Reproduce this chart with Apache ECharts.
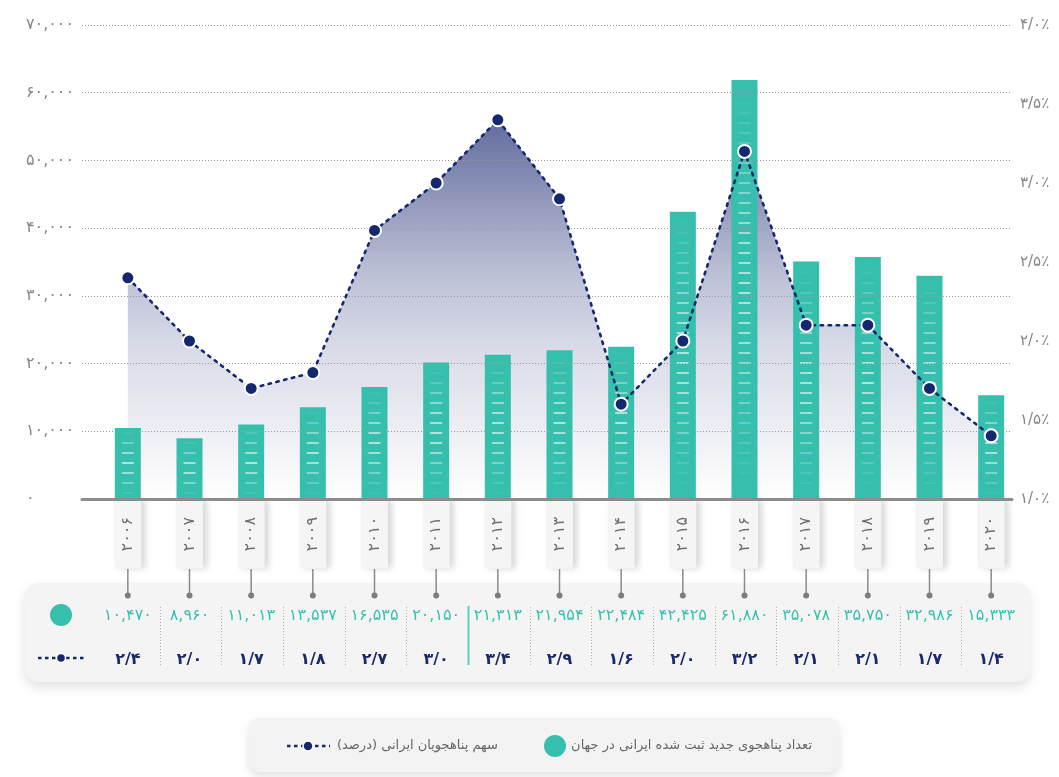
<!DOCTYPE html>
<html lang="fa">
<head>
<meta charset="utf-8">
<title>پناهجویان ایرانی</title>
<script src="https://cdn.jsdelivr.net/npm/echarts@6/dist/echarts.min.js"></script>
<style>
  html, body { margin: 0; padding: 0; background: #ffffff; }
  #chart { width: 1059px; height: 777px; }
</style>
</head>
<body>
<div id="chart"></div>
<script>
// Years (categories)
const years = ['2006', '2007', '2008', '2009', '2010', '2011', '2012', '2013', '2014', '2015', '2016', '2017', '2018', '2019', '2020'];
// New Iranian asylum seekers registered worldwide
const newAsylumSeekers = [10470, 8960, 11013, 13537, 16535, 20150, 21313, 21954, 22484, 42425, 61880, 35078, 35750, 32986, 15333];
// Share of Iranian asylum seekers (percent)
const sharePercent = [2.4, 2.0, 1.7, 1.8, 2.7, 3.0, 3.4, 2.9, 1.6, 2.0, 3.2, 2.1, 2.1, 1.7, 1.4];
// Axis ranges
const countAxis = { min: 0, max: 70000, interval: 10000 };
const shareAxis = { min: 1, max: 4, interval: 0.5 };

const legendBarText = 'تعداد پناهجوی جدید ثبت شده ایرانی در جهان';
const legendLineText = 'سهم پناهجویان ایرانی (درصد)\u200F';

const TEAL = '#35bfac';
const NAVY = '#15276f';
const FONT = "'DejaVu Sans', 'Noto Sans', sans-serif";

// Persian digits
const faDigits = '۰۱۲۳۴۵۶۷۸۹';
const fa = s => String(s).replace(/\d/g, d => faDigits[+d]);
const faCount = v => fa(Math.round(v).toLocaleString('en-US'));
const faShare = v => fa(v.toFixed(1).replace('.', '/'));

// mix the bar colour towards white by k (0..1)
function tealTint(k) {
  const c = [0x35, 0xbf, 0xac].map(ch => Math.round(ch + (255 - ch) * k));
  return 'rgb(' + c.join(',') + ')';
}

const chart = echarts.init(document.getElementById('chart'), null, { renderer: 'canvas' });

// Light stripes inside each bar, brightest around the middle of the bar
function renderStripes(params, api) {
  const i = api.value(0);
  const v = api.value(1);
  const top = api.coord([i, v]);
  const base = api.coord([i, 0]);
  const h = base[1] - top[1];
  const children = [];
  for (let y = base[1] - 6; y > top[1] + 3; y -= 10) {
    const t = (base[1] - y) / h;
    const k = 0.58 * Math.pow(Math.sin(Math.PI * t), 1.5);
    children.push({
      type: 'rect',
      shape: { x: top[0] - 6, y: y - 1, width: 12, height: 2 },
      style: { fill: tealTint(k) }
    });
  }
  return { type: 'group', children };
}

// Connector pins and the value table under the axis
function renderTable(params, api) {
  const i = api.value(0);
  const x = api.coord([i, 0])[0];
  const band = api.size([1, 0])[0];
  const children = [
    { type: 'line', shape: { x1: x, y1: 569, x2: x, y2: 595 }, style: { stroke: '#8a8a8a', lineWidth: 1.5 } },
    { type: 'circle', shape: { cx: x, cy: 595.5, r: 3 }, style: { fill: '#7d7d7d' } },
    { type: 'text', style: { text: faCount(api.value(1)), x: x, y: 616, align: 'center', verticalAlign: 'middle', fill: '#36c1ae', fontSize: 16, fontFamily: FONT } },
    { type: 'text', style: { text: faShare(api.value(2)), x: x, y: 660, align: 'center', verticalAlign: 'middle', fill: '#1b2a6b', fontSize: 16, fontWeight: 'bold', fontFamily: FONT } }
  ];
  if (i > 0) {
    const sx = Math.round(x - band / 2) + 1.5;
    if (years[i] === '2012') {
      children.push({ type: 'line', shape: { x1: sx, y1: 606, x2: sx, y2: 665 }, style: { stroke: '#5fd0c0', lineWidth: 2 } });
    } else {
      children.push({ type: 'line', shape: { x1: sx, y1: 607, x2: sx, y2: 665 }, style: { stroke: '#b0b0b0', lineWidth: 1, lineDash: [1, 2] } });
    }
  }
  return { type: 'group', children };
}

const option = {
  animation: false,
  backgroundColor: '#ffffff',
  textStyle: { fontFamily: FONT },
  grid: [
    { left: 82, right: 47, top: 25, bottom: 278 },
    { left: 97, right: 37, top: 25, bottom: 278 }
  ],
  xAxis: [
    {
      gridIndex: 0, type: 'value', min: 0, max: 1, z: 4,
      axisLine: { show: true, onZero: false, lineStyle: { color: '#8c8c8c', width: 3 } },
      axisTick: { show: false }, axisLabel: { show: false }, splitLine: { show: false }
    },
    {
      gridIndex: 1, type: 'category', data: years, z: 1,
      axisLine: { show: false }, axisTick: { show: false }, splitLine: { show: false },
      axisLabel: {
        rotate: 90, margin: 1, interval: 0,
        formatter: v => fa(v),
        color: '#707070', fontSize: 16, fontFamily: FONT,
        backgroundColor: '#f5f5f5', padding: [6, 17, 5, 17], borderRadius: 2,
        shadowBlur: 6, shadowColor: 'rgba(0,0,0,0.16)', shadowOffsetX: 4, shadowOffsetY: 0
      }
    }
  ],
  yAxis: [
    {
      gridIndex: 0, type: 'value', position: 'left', z: 4,
      min: countAxis.min, max: countAxis.max, interval: countAxis.interval,
      axisLine: { show: false }, axisTick: { show: false },
      splitLine: { show: true, lineStyle: { color: '#9a9a9a', width: 1, type: [1, 2] } },
      axisLabel: { margin: 56, align: 'left', color: '#858585', fontSize: 16, fontFamily: FONT, formatter: v => faCount(v) }
    },
    {
      gridIndex: 0, type: 'value', position: 'right', z: 4,
      min: shareAxis.min, max: shareAxis.max, interval: shareAxis.interval,
      axisLine: { show: false }, axisTick: { show: false }, splitLine: { show: false },
      axisLabel: { margin: 8, color: '#858585', fontSize: 15, fontFamily: FONT, formatter: v => faShare(v) + '٪' }
    },
    { gridIndex: 1, type: 'value', show: false, min: countAxis.min, max: countAxis.max, interval: countAxis.interval, splitLine: { show: false } },
    { gridIndex: 1, type: 'value', show: false, min: shareAxis.min, max: shareAxis.max, interval: shareAxis.interval, splitLine: { show: false } }
  ],
  graphic: [
    // table panel
    { type: 'rect', z: 0, shape: { x: 25, y: 583, width: 1005, height: 99, r: 14 },
      style: { fill: '#f4f4f4', shadowBlur: 12, shadowOffsetY: 5, shadowColor: 'rgba(0,0,0,0.12)' } },
    { type: 'circle', z: 1, shape: { cx: 61, cy: 615, r: 11 }, style: { fill: TEAL } },
    { type: 'line', z: 1, shape: { x1: 38, y1: 658, x2: 84, y2: 658 }, style: { stroke: NAVY, lineWidth: 2.5, lineDash: [3.5, 3.5] } },
    { type: 'circle', z: 2, shape: { cx: 61, cy: 658, r: 4.5 }, style: { fill: NAVY, stroke: '#ffffff', lineWidth: 1.5 } },
    // legend panel
    { type: 'rect', z: 0, shape: { x: 249, y: 718, width: 590, height: 54, r: 10 },
      style: { fill: '#f3f3f3', shadowBlur: 10, shadowOffsetY: 4, shadowColor: 'rgba(0,0,0,0.12)' } },
    { type: 'circle', z: 1, shape: { cx: 555, cy: 746, r: 11 }, style: { fill: TEAL } },
    { type: 'text', z: 1, style: { text: legendBarText, x: 812, y: 746, align: 'right', verticalAlign: 'middle', fill: '#666666', fontSize: 13, fontFamily: FONT } },
    { type: 'line', z: 1, shape: { x1: 287, y1: 746, x2: 330, y2: 746 }, style: { stroke: NAVY, lineWidth: 2.5, lineDash: [3.5, 3.5] } },
    { type: 'circle', z: 2, shape: { cx: 308, cy: 746, r: 5 }, style: { fill: NAVY, stroke: '#ffffff', lineWidth: 1.5 } },
    { type: 'text', z: 1, style: { text: legendLineText, x: 498, y: 746, align: 'right', verticalAlign: 'middle', fill: '#666666', fontSize: 13, fontFamily: FONT } }
  ],
  series: [
    {
      name: 'area', type: 'line', xAxisIndex: 1, yAxisIndex: 3, z: 1, silent: true,
      data: sharePercent, symbol: 'none',
      lineStyle: { width: 0, opacity: 0 },
      areaStyle: {
        color: new echarts.graphic.LinearGradient(0, 0, 0, 1, [
          { offset: 0, color: 'rgba(24,38,112,0.97)' },
          { offset: 0.4, color: 'rgba(24,38,112,0.42)' },
          { offset: 0.6, color: 'rgba(24,38,112,0.24)' },
          { offset: 1, color: 'rgba(24,38,112,0.0)' }
        ])
      }
    },
    {
      name: legendBarText, type: 'bar', xAxisIndex: 1, yAxisIndex: 2, z: 2,
      data: newAsylumSeekers, barWidth: 26, itemStyle: { color: TEAL }
    },
    {
      name: 'stripes', type: 'custom', xAxisIndex: 1, yAxisIndex: 2, z: 3, silent: true,
      data: newAsylumSeekers.map((v, i) => [i, v]),
      encode: { x: 0, y: 1 },
      renderItem: renderStripes
    },
    {
      name: legendLineText, type: 'line', xAxisIndex: 1, yAxisIndex: 3, z: 6,
      data: sharePercent, symbol: 'circle', symbolSize: 13,
      lineStyle: { color: NAVY, width: 2.6, type: [2.5, 5.5], cap: 'round' },
      itemStyle: { color: NAVY, borderColor: '#ffffff', borderWidth: 2 }
    },
    {
      name: 'table', type: 'custom', xAxisIndex: 1, yAxisIndex: 2, z: 5, silent: true, clip: false,
      data: years.map((y, i) => [i, newAsylumSeekers[i], sharePercent[i]]),
      encode: { x: 0, y: 1 },
      renderItem: renderTable
    }
  ]
};

chart.setOption(option);
</script>
</body>
</html>
